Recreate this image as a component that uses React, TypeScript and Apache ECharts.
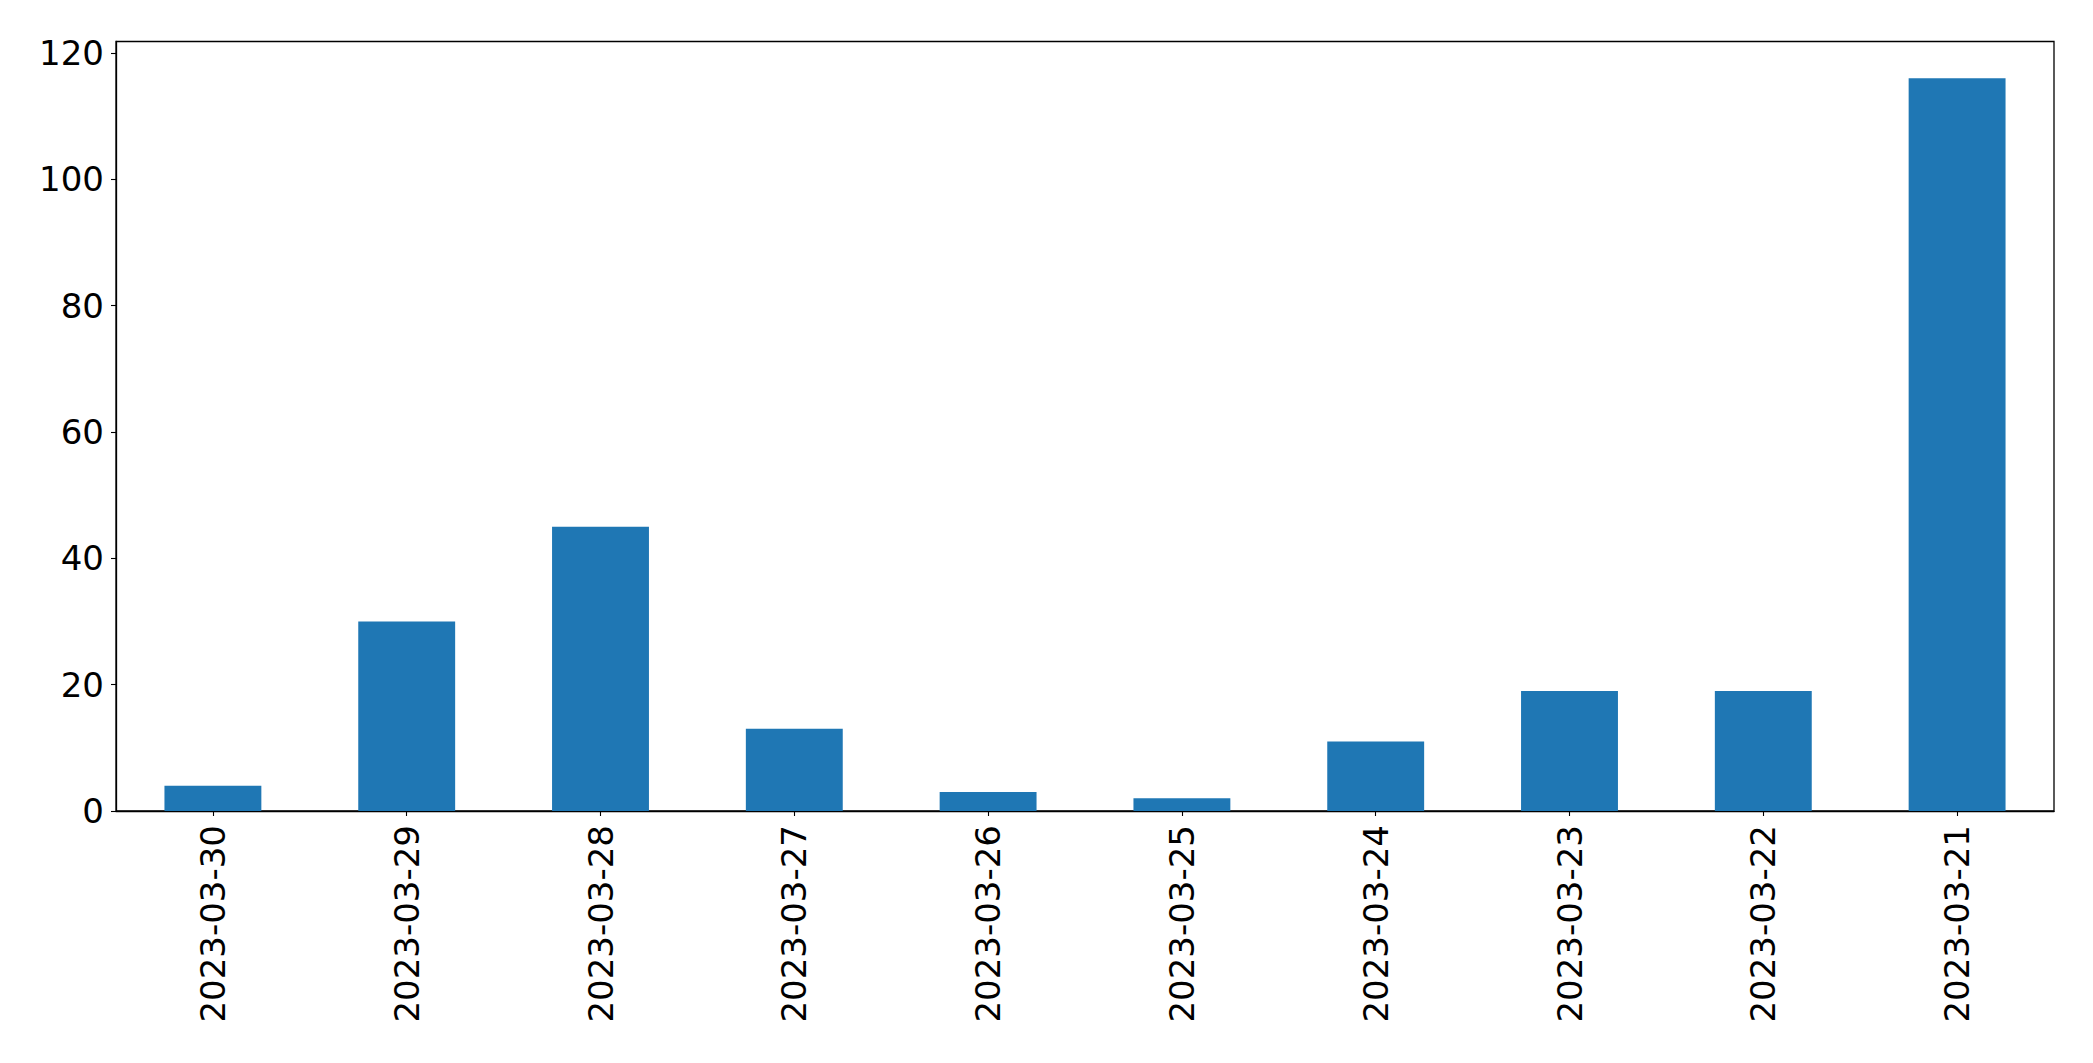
import React, { useEffect, useRef } from "react";
import * as echarts from "echarts";

const categories = [
  "2023-03-30",
  "2023-03-29",
  "2023-03-28",
  "2023-03-27",
  "2023-03-26",
  "2023-03-25",
  "2023-03-24",
  "2023-03-23",
  "2023-03-22",
  "2023-03-21",
];
const values = [4, 30, 45, 13, 3, 2, 11, 19, 19, 116];
const yMax = 121.8;
const yInterval = 20;

export default function App() {
  const ref = useRef<HTMLDivElement>(null);
  useEffect(() => {
    document.body.style.margin = "0";
    const chart = echarts.init(ref.current!, undefined, { renderer: "svg" });
    const font = "DejaVu Sans";
    chart.setOption({
      animation: false,
      backgroundColor: "#ffffff",
      grid: {
        left: 116,
        top: 41.5,
        right: 39,
        bottom: 252,
        show: true,
        borderColor: "#000000",
        borderWidth: 1.3,
        backgroundColor: "transparent",
      },
      xAxis: {
        type: "category",
        data: categories,
        boundaryGap: true,
        axisLine: { show: true, lineStyle: { color: "#000", width: 1.3 } },
        axisTick: {
          show: true,
          alignWithLabel: true,
          length: 5,
          lineStyle: { color: "#000", width: 1.1 },
        },
        axisLabel: {
          rotate: 90,
          margin: 14,
          color: "#000",
          fontFamily: font,
          fontSize: 34,
          interval: 0,
        },
        splitLine: { show: false },
      },
      yAxis: {
        type: "value",
        min: 0,
        max: yMax,
        interval: yInterval,
        axisLine: { show: true, lineStyle: { color: "#000", width: 1.3 } },
        axisTick: { show: true, length: 5, lineStyle: { color: "#000", width: 1.1 } },
        axisLabel: {
          margin: 12,
          color: "#000",
          fontFamily: font,
          fontSize: 34,
          showMaxLabel: false,
          formatter: (v: number) => (v % yInterval === 0 ? String(v) : ""),
        },
        splitLine: { show: false },
      },
      series: [
        {
          type: "bar",
          data: values,
          barWidth: "50%",
          itemStyle: { color: "#1f77b4" },
        },
      ],
    });
    return () => chart.dispose();
  }, []);
  return (
    <div
      ref={ref}
      style={{ position: "fixed", left: 0, top: 0, width: 2093, height: 1063 }}
    />
  );
}
